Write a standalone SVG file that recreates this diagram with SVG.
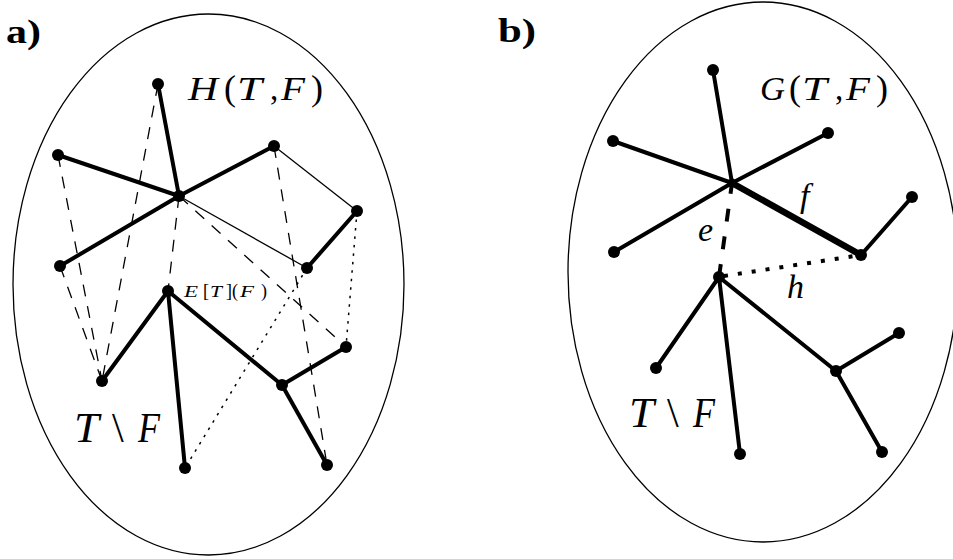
<svg xmlns="http://www.w3.org/2000/svg" width="953" height="559" viewBox="0 0 953 559">
<style>
.bg{fill:#fff}
.ell{fill:none;stroke:#000;stroke-width:1.3}
.thick{stroke:#000;stroke-width:4;stroke-linecap:round}
.thicker{stroke:#000;stroke-width:6.5;stroke-linecap:round}
.thin{stroke:#000;stroke-width:1.3}
.dash{stroke:#000;stroke-width:1.3;stroke-dasharray:12 10}
.dot{stroke:#000;stroke-width:1.5;stroke-dasharray:2.5 6}
.bdash{stroke:#000;stroke-width:4;stroke-dasharray:13 15}
.bdot{stroke:#000;stroke-width:4;stroke-dasharray:4 10}
.node{fill:#000}
text{font-family:"Liberation Serif","DejaVu Serif",serif;fill:#000}
.it{font-style:italic}
.bold{font-weight:bold}
</style>
<rect class="bg" x="0" y="0" width="953" height="559"/>
<g id="regionA"><ellipse class="ell" cx="208.5" cy="284.5" rx="195.5" ry="270.5"/></g>
<g id="regionB"><ellipse class="ell" cx="763" cy="272" rx="195" ry="270"/></g>
<g id="connectors">
  <line class="thick" x1="158" y1="84" x2="179" y2="196"/>
  <line class="thick" x1="58" y1="155" x2="179" y2="196"/>
  <line class="thick" x1="179" y1="196" x2="274" y2="146"/>
  <line class="thick" x1="179" y1="196" x2="60" y2="266"/>
  <line class="thick" x1="357" y1="211" x2="307" y2="268"/>
  <line class="thick" x1="168" y1="291" x2="102" y2="381"/>
  <line class="thick" x1="168" y1="291" x2="185" y2="468"/>
  <line class="thick" x1="168" y1="291" x2="282" y2="385"/>
  <line class="thick" x1="282" y1="385" x2="346" y2="347"/>
  <line class="thick" x1="282" y1="385" x2="327" y2="465"/>
  <line class="thin" x1="274" y1="146" x2="357" y2="211"/>
  <line class="thin" x1="179" y1="196" x2="307" y2="268"/>
  <line class="dash" x1="58" y1="155" x2="102" y2="381"/>
  <line class="dash" x1="158" y1="84" x2="102" y2="381"/>
  <line class="dash" x1="60" y1="266" x2="102" y2="381"/>
  <line class="dash" x1="179" y1="196" x2="168" y2="291"/>
  <line class="dash" x1="179" y1="196" x2="346" y2="347"/>
  <line class="dash" x1="274" y1="146" x2="327" y2="465"/>
  <line class="dot" x1="357" y1="211" x2="346" y2="347"/>
  <line class="dot" x1="307" y1="268" x2="185" y2="468"/>
  <line class="thick" x1="713" y1="70" x2="732" y2="183"/>
  <line class="thick" x1="613" y1="141" x2="732" y2="183"/>
  <line class="thick" x1="732" y1="183" x2="828" y2="133"/>
  <line class="thick" x1="732" y1="183" x2="614" y2="252"/>
  <line class="thicker" x1="732" y1="183" x2="861" y2="255"/>
  <line class="thick" x1="861" y1="255" x2="912" y2="197"/>
  <line class="thick" x1="719" y1="277" x2="656" y2="368"/>
  <line class="thick" x1="719" y1="277" x2="740" y2="454"/>
  <line class="thick" x1="719" y1="277" x2="836" y2="371"/>
  <line class="thick" x1="836" y1="371" x2="899" y2="333"/>
  <line class="thick" x1="836" y1="371" x2="882" y2="452"/>
  <line class="bdash" x1="719" y1="277" x2="732" y2="183"/>
  <line class="bdot" x1="724" y1="276" x2="861" y2="255"/>
</g>
<g id="nodesA">
  <circle id="a-top" class="node" cx="158" cy="84" r="6"/>
  <circle id="a-A" class="node" cx="58" cy="155" r="6"/>
  <circle id="a-C" class="node" cx="179" cy="196" r="6"/>
  <circle id="a-R1" class="node" cx="274" cy="146" r="6"/>
  <circle id="a-R2" class="node" cx="357" cy="211" r="6"/>
  <circle id="a-L2" class="node" cx="60" cy="266" r="6"/>
  <circle id="a-M" class="node" cx="307" cy="268" r="6"/>
  <circle id="a-E" class="node" cx="168" cy="291" r="6"/>
  <circle id="a-TL" class="node" cx="102" cy="381" r="6"/>
  <circle id="a-B" class="node" cx="185" cy="468" r="6"/>
  <circle id="a-Y" class="node" cx="282" cy="385" r="6"/>
  <circle id="a-Yr" class="node" cx="346" cy="347" r="6"/>
  <circle id="a-BR" class="node" cx="327" cy="465" r="6"/>
</g>
<g id="nodesB">
  <circle id="b-top" class="node" cx="713" cy="70" r="6"/>
  <circle id="b-A" class="node" cx="613" cy="141" r="6"/>
  <circle id="b-C" class="node" cx="732" cy="183" r="4.5"/>
  <circle id="b-R1" class="node" cx="828" cy="133" r="6"/>
  <circle id="b-L2" class="node" cx="614" cy="252" r="6"/>
  <circle id="b-R2" class="node" cx="912" cy="197" r="6"/>
  <circle id="b-M" class="node" cx="861" cy="255" r="6"/>
  <circle id="b-E" class="node" cx="719" cy="277" r="6"/>
  <circle id="b-TL" class="node" cx="656" cy="368" r="6"/>
  <circle id="b-B" class="node" cx="740" cy="454" r="6"/>
  <circle id="b-Y" class="node" cx="836" cy="371" r="6"/>
  <circle id="b-Yr" class="node" cx="899" cy="333" r="6"/>
  <circle id="b-BR" class="node" cx="882" cy="452" r="6"/>
</g>
<g id="labels">
  <text class="bold" x="6" y="43" font-size="34" textLength="35" lengthAdjust="spacingAndGlyphs">a)</text>
  <text class="bold" x="498" y="42" font-size="34" textLength="38" lengthAdjust="spacingAndGlyphs">b)</text>
  <g id="label-H" font-size="33">
    <text class="it" x="188" y="100" textLength="30" lengthAdjust="spacingAndGlyphs">H</text>
    <text x="224" y="100" font-size="36">(</text>
    <text class="it" x="237" y="100" textLength="25" lengthAdjust="spacingAndGlyphs">T</text>
    <text x="270" y="100">,</text>
    <text class="it" x="281" y="100" textLength="24" lengthAdjust="spacingAndGlyphs">F</text>
    <text x="311" y="100" font-size="36">)</text>
  </g>
  <g id="label-G" font-size="33">
    <text class="it" x="760" y="100" textLength="25" lengthAdjust="spacingAndGlyphs">G</text>
    <text x="789" y="100" font-size="36">(</text>
    <text class="it" x="802" y="100" textLength="25" lengthAdjust="spacingAndGlyphs">T</text>
    <text x="835" y="100">,</text>
    <text class="it" x="846" y="100" textLength="24" lengthAdjust="spacingAndGlyphs">F</text>
    <text x="876" y="100" font-size="36">)</text>
  </g>
  <g id="label-E" font-size="17">
    <text class="it" x="184" y="297" textLength="14" lengthAdjust="spacingAndGlyphs">E</text>
    <text x="203" y="297" font-size="18">[</text>
    <text class="it" x="210" y="297" textLength="12" lengthAdjust="spacingAndGlyphs">T</text>
    <text x="226" y="297" font-size="18">]</text>
    <text x="232" y="297" font-size="18">(</text>
    <text class="it" x="240" y="297" textLength="14" lengthAdjust="spacingAndGlyphs">F</text>
    <text x="261" y="297" font-size="18">)</text>
  </g>
  <g id="label-TF-a" font-size="42">
    <text class="it" x="74" y="442" textLength="25" lengthAdjust="spacingAndGlyphs">T</text>
    <text x="112" y="442">\</text>
    <text class="it" x="138" y="442" textLength="22" lengthAdjust="spacingAndGlyphs">F</text>
  </g>
  <g id="label-TF-b" font-size="42">
    <text class="it" x="629" y="427" textLength="25" lengthAdjust="spacingAndGlyphs">T</text>
    <text x="667" y="427">\</text>
    <text class="it" x="693" y="427" textLength="22" lengthAdjust="spacingAndGlyphs">F</text>
  </g>
  <text class="it" x="800" y="207" font-size="34">f</text>
  <text class="it" x="698" y="241" font-size="34">e</text>
  <text class="it" x="787" y="298" font-size="34">h</text>
</g>
</svg>
